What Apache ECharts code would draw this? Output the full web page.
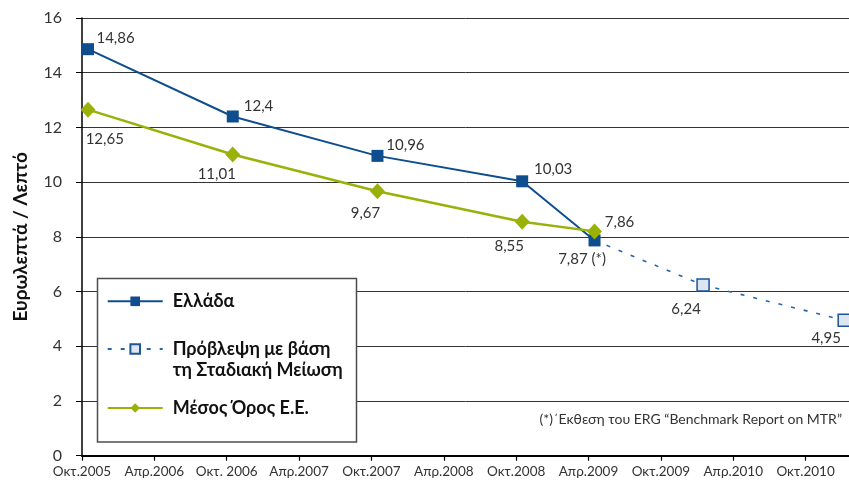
<!DOCTYPE html>
<html>
<head>
<meta charset="utf-8">
<script src="https://cdn.jsdelivr.net/npm/echarts@6/dist/echarts.min.js"></script>
<style>html,body{margin:0;padding:0;background:#fff}#c{width:849px;height:481px}</style>
</head>
<body>
<div id="c"></div>
<script>
// ---- data ----
const tickMonths = [0, 6, 12, 18, 24, 30, 36, 42, 48, 54, 60];
const tickLabels = ['Οκτ.2005', 'Απρ.2006', 'Οκτ. 2006', 'Απρ.2007', 'Οκτ.2007', 'Απρ.2008', 'Οκτ.2008', 'Απρ.2009', 'Οκτ.2009', 'Απρ.2010', 'Οκτ.2010'];
const seriesNames = ['Ελλάδα', 'Πρόβλεψη με βάση\nτη Σταδιακή Μείωση', 'Μέσος Όρος Ε.Ε.'];
const greeceMonths = [0.5, 12.5, 24.5, 36.5, 42.5];
const greeceValues = [14.86, 12.4, 10.96, 10.03, 7.87];
const greeceLabels = ['14,86', '12,4', '10,96', '10,03', '7,87 (*)'];
const euMonths = [0.5, 12.5, 24.5, 36.5, 42.5];
const euValues = [12.65, 11.01, 9.67, 8.55, 8.2];
const euLabels = ['12,65', '11,01', '9,67', '8,55', '7,86'];
const forecastMonths = [42.5, 51.5, 63.2];
const forecastValues = [7.87, 6.24, 4.95];
const forecastLabels = ['', '6,24', '4,95'];
const yTitle = 'Ευρωλεπτά / Λεπτό';
const noteText = '(*)΄Εκθεση του ERG “Benchmark Report on MTR”';

// ---- layout (label offsets relative to each mark) ----
const greeceOffsets = [[27.5, -10.7], [25.8, -10], [28, -11], [31, -12.5], [-12.5, 19]];
const euOffsets = [[16.7, 29.7], [-16, 20], [-12, 21.5], [-13, 24.7], [25, -9.3]];
const forecastOffsets = [[0, 0], [-17, 24], [-18, 18]];

const FONT = 'Lato, "Open Sans", sans-serif';
const BLUE = '#0e4d8e';
const GREEN = '#9ab10a';

function build(months, values, labels, offsets, hideFirst) {
  return months.map((m, i) => {
    const item = {
      value: [m, values[i]],
      label: { show: labels[i] !== '', formatter: labels[i], offset: offsets[i] }
    };
    if (hideFirst && i === 0) item.symbol = 'none';
    return item;
  });
}

const labelBase = {
  show: true, position: 'inside', color: '#333', fontSize: 15, fontFamily: FONT,
  align: 'center', verticalAlign: 'middle'
};

const legendText = { fontFamily: FONT, fontSize: 18, fontWeight: 'bold', color: '#111', lineHeight: 12, padding: [0, 0, 0, 5] };
const legendBase = {
  orient: 'vertical', padding: 0, itemWidth: 55, itemHeight: 12, itemGap: 0,
  selectedMode: false, left: 106.7, textStyle: legendText
};

const chart = echarts.init(document.getElementById('c'), null, { renderer: 'canvas' });
chart.setOption({
  animation: false,
  grid: { left: 82, right: 0, top: 18, bottom: 25.3, containLabel: false },
  xAxis: {
    type: 'value', min: 0, max: 63.6, interval: 6,
    axisLine: { show: true, lineStyle: { color: '#000', width: 2 } },
    axisTick: { show: true, length: 5, lineStyle: { color: '#000', width: 1.2 }, customValues: tickMonths },
    axisLabel: {
      customValues: tickMonths, margin: 9, color: '#333', fontSize: 13.5, fontFamily: FONT,
      formatter: v => tickLabels[tickMonths.indexOf(v)] || ''
    },
    splitLine: { show: false }
  },
  yAxis: {
    type: 'value', min: 0, max: 16, interval: 2,
    name: yTitle, nameLocation: 'middle', nameGap: 52, nameRotate: 90,
    nameTextStyle: { fontFamily: FONT, fontSize: 19, fontWeight: 'bold', color: '#111' },
    axisLine: { show: true, lineStyle: { color: '#000', width: 1.5 } },
    axisTick: { show: true, length: 6, lineStyle: { color: '#000', width: 1 } },
    axisLabel: { margin: 20, color: '#333', fontSize: 16, fontFamily: FONT },
    splitLine: { show: true, lineStyle: { color: '#333', width: 1 } }
  },
  legend: [
    Object.assign({}, legendBase, { data: [seriesNames[0]], top: 292.3 }),
    Object.assign({}, legendBase, {
      data: [seriesNames[1]], top: 317.5,
      formatter: name => ' \n' + name,
      textStyle: Object.assign({}, legendText, { lineHeight: 21 })
    }),
    Object.assign({}, legendBase, { data: [seriesNames[2]], top: 399 })
  ],
  graphic: [
    {
      type: 'rect', z: 1, silent: true,
      shape: { x: 97.5, y: 278.5, width: 259, height: 163.5 },
      style: { fill: '#fff', stroke: '#4d4d4d', lineWidth: 1.5 }
    },
    {
      type: 'text', z: 5, silent: true, x: 842, y: 419,
      style: { text: noteText, align: 'right', verticalAlign: 'middle', fontSize: 14, fontFamily: FONT, fill: '#333' }
    }
  ],
  series: [
    {
      name: seriesNames[0], type: 'line', clip: false,
      data: build(greeceMonths, greeceValues, greeceLabels, greeceOffsets, false),
      symbol: 'rect', symbolSize: 12,
      lineStyle: { color: BLUE, width: 2 },
      itemStyle: { color: BLUE },
      label: labelBase
    },
    {
      name: seriesNames[1], type: 'line', clip: false,
      data: build(forecastMonths, forecastValues, forecastLabels, forecastOffsets, true),
      symbol: 'rect', symbolSize: 12,
      lineStyle: { color: '#2565aa', width: 1.6, type: [4, 9] },
      itemStyle: { color: '#dde5f1', borderColor: '#1b5596', borderWidth: 1.5 },
      label: labelBase
    },
    {
      name: seriesNames[2], type: 'line', clip: false,
      data: build(euMonths, euValues, euLabels, euOffsets, false),
      symbol: 'diamond', symbolSize: [15, 16],
      lineStyle: { color: GREEN, width: 2.5 },
      itemStyle: { color: GREEN },
      label: labelBase
    }
  ]
});
</script>
</body>
</html>
